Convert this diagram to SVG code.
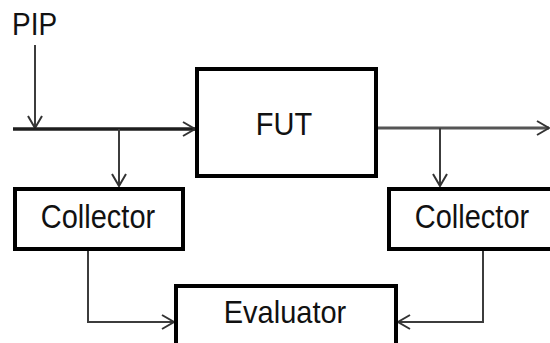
<svg xmlns="http://www.w3.org/2000/svg" width="550" height="343" viewBox="0 0 550 343">
<style>
.box{fill:#fff;stroke:#000;stroke-width:4}
.lbl{font-family:"Liberation Sans",Arial,sans-serif;font-size:29px;fill:#111;text-anchor:middle}
.ln{fill:none;stroke:#3c3c3c;stroke-width:2}
.thick{fill:none;stroke:#1e1e1e;stroke-width:3.5}
.out{fill:none;stroke:#555;stroke-width:3}
</style>
<defs>
<marker id="ah" markerUnits="userSpaceOnUse" markerWidth="16" markerHeight="16" refX="12" refY="7" orient="auto" overflow="visible">
<path d="M0,0 L12,7 L0,14" fill="none" stroke="#333" stroke-width="2"/>
</marker>
</defs>
<rect width="550" height="343" fill="#fff"/>
<g id="connectors">
<line class="ln" x1="35" y1="45" x2="35" y2="128" marker-end="url(#ah)"/>
<line class="thick" x1="13" y1="129" x2="195" y2="129" marker-end="url(#ah)"/>
<line class="ln" x1="119" y1="129" x2="119" y2="186" marker-end="url(#ah)"/>
<line class="out" x1="377" y1="128" x2="549" y2="128" marker-end="url(#ah)"/>
<line class="ln" x1="440" y1="128" x2="440" y2="186" marker-end="url(#ah)"/>
<polyline class="ln" points="88,250 88,322 174,322" marker-end="url(#ah)"/>
<polyline class="ln" points="483,250 483,322 398,322" marker-end="url(#ah)"/>
</g>
<g id="pip">
<text x="12" y="0" transform="translate(0,35) scale(1,1.1)" font-family="Liberation Sans, Arial, sans-serif" font-size="28" fill="#111">PIP</text>
</g>
<g id="fut">
<rect class="box" x="197" y="69" width="179" height="107"/>
<text class="lbl" transform="translate(284,135) scale(1,1.1)">FUT</text>
</g>
<g id="collector-left">
<rect class="box" x="15" y="189" width="168" height="60"/>
<text class="lbl" transform="translate(98,228) scale(1,1.12)">Collector</text>
</g>
<g id="collector-right">
<rect class="box" x="389" y="189" width="168" height="60"/>
<text class="lbl" transform="translate(472,228) scale(1,1.12)">Collector</text>
</g>
<g id="evaluator">
<rect class="box" x="176" y="286" width="220" height="70"/>
<text class="lbl" transform="translate(285,323) scale(1,1.1)">Evaluator</text>
</g>
</svg>
